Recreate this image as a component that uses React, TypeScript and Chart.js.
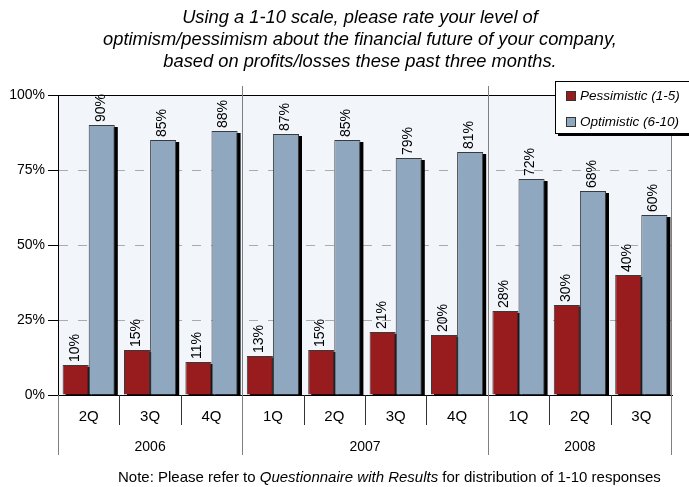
import React, { useEffect, useRef } from "react";
import { Chart, registerables } from "chart.js";

Chart.register(...registerables);

// ---- data ----
const quarters = ["2Q", "3Q", "4Q", "1Q", "2Q", "3Q", "4Q", "1Q", "2Q", "3Q"];
const years = ["2006", "2007", "2008"];
const quartersPerYear = [3, 4, 3];
const pessimistic = [10, 15, 11, 13, 15, 21, 20, 28, 30, 40];
const optimistic = [90, 85, 88, 87, 85, 79, 81, 72, 68, 60];
const seriesNames = ["Pessimistic (1-5)", "Optimistic (6-10)"];
const yTicks = [0, 25, 50, 75, 100];
const titleLines = [
  "Using a 1-10 scale, please rate your level of",
  "optimism/pessimism about the financial future of your company,",
  "based on profits/losses these past three months.",
];
const noteParts = [
  { text: "Note: Please refer to ", italic: false },
  { text: "Questionnaire with Results", italic: true },
  { text: " for distribution of 1-10 responses", italic: false },
];

// ---- style ----
const FONT = "'Liberation Sans', Arial, Helvetica, sans-serif";
const RED = "#981B1E";
const BLUE = "#8FA7BF";
const PLOT_BG = "#F2F5FA";
const GRID = "#ABABAB";
const DIVIDER = "#7F7F7F";

function line(ctx: CanvasRenderingContext2D, x1: number, y1: number, x2: number, y2: number, color: string) {
  ctx.beginPath();
  ctx.strokeStyle = color;
  ctx.lineWidth = 1;
  ctx.moveTo(x1, y1);
  ctx.lineTo(x2, y2);
  ctx.stroke();
}

const decorPlugin = {
  id: "decor",
  beforeDraw(chart: any) {
    const { ctx, chartArea: a } = chart;
    ctx.save();
    ctx.fillStyle = "#ffffff";
    ctx.fillRect(0, 0, chart.width, chart.height);
    ctx.fillStyle = PLOT_BG;
    ctx.fillRect(a.left, a.top, a.right - a.left, a.bottom - a.top);
    ctx.restore();
  },
  beforeDatasetsDraw(chart: any) {
    const { ctx, chartArea: a } = chart;
    const xs = chart.scales.x;
    const n = quarters.length;
    const cw = (xs.right - xs.left) / n;
    const boundary = (i: number) => Math.round(xs.left + i * cw) + 0.5;
    ctx.save();

    // frame: top and right edges
    line(ctx, a.left, Math.round(a.top) + 0.5, a.right, Math.round(a.top) + 0.5, "#000");
    line(ctx, Math.round(a.right) - 0.5, a.top, Math.round(a.right) - 0.5, a.bottom, DIVIDER);

    // year dividers inside the plot
    let idx = 0;
    for (let y = 0; y < quartersPerYear.length - 1; y++) {
      idx += quartersPerYear[y];
      const bx = boundary(idx);
      line(ctx, bx, a.top - 9, bx, a.bottom, DIVIDER);
    }

    // bar shadows
    ctx.beginPath();
    ctx.rect(a.left, a.top - 20, a.right - a.left, a.bottom - a.top + 20);
    ctx.clip();
    ctx.fillStyle = "#000";
    chart.data.datasets.forEach((_: any, di: number) => {
      const meta = chart.getDatasetMeta(di);
      meta.data.forEach((bar: any) => {
        const p = bar.getProps(["x", "y", "base", "width"], true);
        ctx.fillRect(p.x - p.width / 2 + 3, p.y + 2, p.width, p.base - p.y);
      });
    });
    ctx.restore();
  },
  afterDatasetsDraw(chart: any) {
    const { ctx } = chart;
    ctx.save();
    ctx.fillStyle = "#000";
    ctx.font = `14px ${FONT}`;
    ctx.textAlign = "left";
    ctx.textBaseline = "middle";
    chart.data.datasets.forEach((ds: any, di: number) => {
      const meta = chart.getDatasetMeta(di);
      meta.data.forEach((bar: any, i: number) => {
        const p = bar.getProps(["x", "y"], true);
        ctx.save();
        ctx.translate(p.x - 1, p.y - 3);
        ctx.rotate(-Math.PI / 2);
        ctx.fillText(`${ds.data[i]}%`, 0, 0);
        ctx.restore();
      });
    });
    ctx.restore();
  },
  afterDraw(chart: any) {
    const { ctx, chartArea: a } = chart;
    const xs = chart.scales.x;
    const n = quarters.length;
    const cw = (xs.right - xs.left) / n;
    const boundary = (i: number) => Math.round(xs.left + i * cw) + 0.5;
    ctx.save();

    // category separators below the axis
    const yearEdges = new Set<number>([0]);
    let acc = 0;
    quartersPerYear.forEach((q) => {
      acc += q;
      yearEdges.add(acc);
    });
    for (let i = 0; i <= n; i++) {
      const bx = i === n ? Math.round(xs.right) - 0.5 : boundary(i);
      if (yearEdges.has(i)) {
        line(ctx, bx, a.bottom, bx, a.bottom + 60, DIVIDER);
      } else {
        line(ctx, bx, a.bottom, bx, a.bottom + 30, "#333");
      }
    }

    // year labels
    ctx.fillStyle = "#000";
    ctx.font = `14px ${FONT}`;
    ctx.textAlign = "center";
    ctx.textBaseline = "middle";
    let start = 0;
    years.forEach((yr, k) => {
      const end = start + quartersPerYear[k];
      const cx = (xs.getPixelForValue(start) + xs.getPixelForValue(end - 1)) / 2;
      ctx.fillText(yr, cx, a.bottom + 52);
      start = end;
    });

    // legend
    const lx = 555.5, ly = 81.5, lw = 140, lh = 52;
    ctx.fillStyle = "#000";
    ctx.fillRect(lx + 2.5, ly + 2.5, lw, lh);
    ctx.fillStyle = "#fff";
    ctx.fillRect(lx, ly, lw, lh);
    ctx.strokeStyle = "#000";
    ctx.lineWidth = 1;
    ctx.strokeRect(lx, ly, lw, lh);
    const colors = [RED, BLUE];
    ctx.font = `italic 13.5px ${FONT}`;
    ctx.textAlign = "left";
    seriesNames.forEach((name, k) => {
      const cy = 96 + k * 26;
      ctx.fillStyle = colors[k];
      ctx.fillRect(566.5, cy - 4.5, 9, 9);
      ctx.strokeStyle = "#333";
      ctx.strokeRect(566.5, cy - 4.5, 9, 9);
      ctx.fillStyle = "#000";
      ctx.fillText(name, 580, cy + 0.5);
    });

    // title
    ctx.font = `italic 18.3px ${FONT}`;
    ctx.textAlign = "center";
    titleLines.forEach((t, k) => ctx.fillText(t, 360, 18 + k * 22));

    // footnote
    ctx.textAlign = "left";
    let nx = 118;
    noteParts.forEach((part) => {
      ctx.font = `${part.italic ? "italic " : ""}15px ${FONT}`;
      ctx.fillText(part.text, nx, 478);
      nx += ctx.measureText(part.text).width;
    });

    ctx.restore();
  },
};

export default function App() {
  const ref = useRef<HTMLCanvasElement | null>(null);

  useEffect(() => {
    if (!ref.current) return;
    const chart = new Chart(ref.current, {
      type: "bar",
      data: {
        labels: quarters,
        datasets: [
          {
            label: seriesNames[0],
            data: pessimistic,
            backgroundColor: RED,
            borderColor: "#3a3a3a",
            borderWidth: 1,
            borderSkipped: "bottom",
            categoryPercentage: 0.85,
            barPercentage: 1.0,
          },
          {
            label: seriesNames[1],
            data: optimistic,
            backgroundColor: BLUE,
            borderColor: "#3a3a3a",
            borderWidth: 1,
            borderSkipped: "bottom",
            categoryPercentage: 0.85,
            barPercentage: 1.0,
          },
        ],
      },
      options: {
        responsive: false,
        devicePixelRatio: 1,
        animation: false,
        layout: { padding: { top: 95, right: 17, bottom: 0, left: 0 } },
        plugins: {
          legend: { display: false },
          title: { display: false },
          tooltip: { enabled: false },
        },
        scales: {
          x: {
            offset: true,
            grid: { display: false, drawTicks: false },
            border: { display: true, color: "#000", width: 1 },
            ticks: {
              color: "#000",
              font: { family: FONT, size: 15 },
              padding: 13,
              maxRotation: 0,
              autoSkip: false,
            },
            afterFit: (s: any) => {
              s.height = 92;
            },
          },
          y: {
            min: 0,
            max: 100,
            afterBuildTicks: (s: any) => {
              s.ticks = yTicks.map((v) => ({ value: v }));
            },
            grid: {
              color: (c: any) =>
                c.tick && (c.tick.value === 0 || c.tick.value === 100) ? "rgba(0,0,0,0)" : GRID,
              tickColor: "#000",
              tickLength: 10,
              tickBorderDash: [],
            },
            border: { display: true, color: "#000", width: 1, dash: [9, 10] },
            ticks: {
              color: "#000",
              font: { family: FONT, size: 14 },
              padding: 3,
              callback: (v: any) => `${v}%`,
            },
            afterFit: (s: any) => {
              s.width = 58;
            },
          },
        },
      },
      plugins: [decorPlugin],
    });
    return () => chart.destroy();
  }, []);

  return (
    <div style={{ position: "absolute", left: 0, top: 0, width: 689, height: 487, background: "#fff" }}>
      <canvas ref={ref} width={689} height={487} style={{ display: "block" }} />
    </div>
  );
}
